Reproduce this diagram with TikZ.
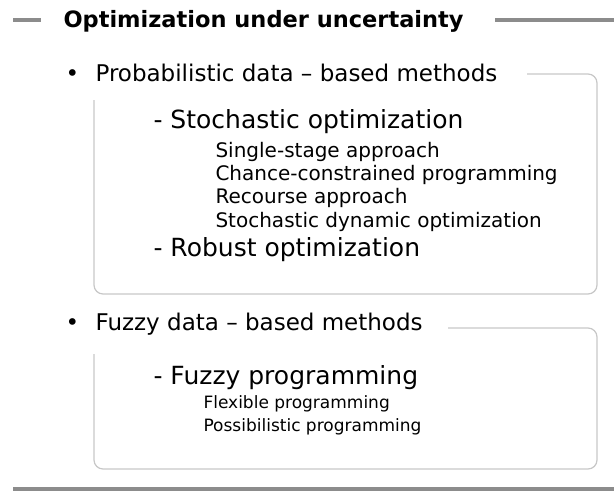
\documentclass[tikz,border=0pt]{standalone}
\usepackage{fontspec}
\setmainfont{DejaVu Sans}
\begin{document}
\begin{tikzpicture}[x=1pt,y=-1pt,
  rule/.style={draw=black!45,line width=4pt},
  frame/.style={draw=black!22,line width=1.2pt,rounded corners=9pt},
  head/.style={anchor=base west,font=\fontsize{22.5}{27}\selectfont\bfseries},
  lvlone/.style={anchor=base west,font=\fontsize{23}{27}\selectfont},
  lvltwo/.style={anchor=base west,font=\fontsize{25}{29}\selectfont},
  lvlthree/.style={anchor=base west,font=\fontsize{20}{23}\selectfont},
  lvlfour/.style={anchor=base west,font=\fontsize{17}{20}\selectfont}]
\useasboundingbox (0,0) rectangle (614,496);
% title with rules
\node[head] (title) at (60,27) {Optimization under uncertainty};
\coordinate (tl) at (13,20); \coordinate (tr) at (614,20);
\draw[rule] (tl) -- (41,20);
\draw[rule] (title.east |- tr) ++(28,0) -- (tr);
% probabilistic group
\node[lvlone] (bulA) at (62,81) {•};
\node[lvlone] (probA) at (92,81) {Probabilistic data – based methods};
\draw[frame] (94,100) -- (94,294) -- (597,294) -- (597,74) -- (527,74);
\node[lvltwo] (stoch) at (150,128) {- Stochastic optimization};
\foreach \y/\txt/\nm in {157/{Single-stage approach}/ssa,
  180/{Chance-constrained programming}/ccp, 203/{Recourse approach}/rca,
  227/{Stochastic dynamic optimization}/sdo}
  \node[lvlthree] (\nm) at (212,\y) {\txt};
\node[lvltwo] (robust) at (150,256) {- Robust optimization};
% fuzzy group
\node[lvlone] (bulB) at (62,330) {•};
\node[lvlone] (fuzA) at (92,330) {Fuzzy data – based methods};
\draw[frame] (94,354) -- (94,469) -- (597,469) -- (597,328) -- (448,328);
\node[lvltwo] (fprog) at (150,384) {- Fuzzy programming};
\foreach \y/\txt/\nm in {408/{Flexible programming}/flx, 431/{Possibilistic programming}/pos}
  \node[lvlfour] (\nm) at (200,\y) {\txt};
% closing rule
\draw[rule] (tl |- 0,489) -- (tr |- 0,489);
\end{tikzpicture}
\end{document}
